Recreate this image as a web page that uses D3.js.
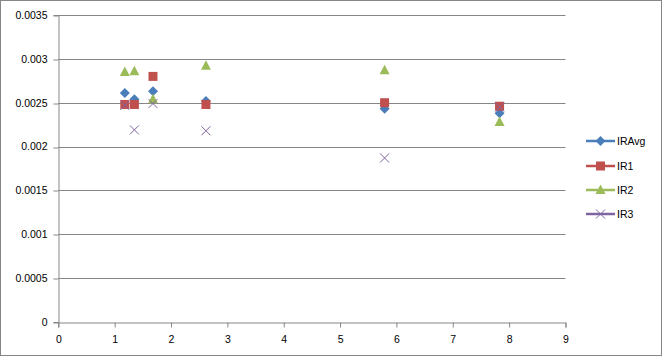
<!DOCTYPE html>
<html><head><meta charset="utf-8">
<script src="https://cdn.jsdelivr.net/npm/d3@7"></script>
<style>body{margin:0;background:#fff}svg{display:block}text{font-family:"Liberation Sans",Arial,sans-serif;font-size:10.5px;fill:#000}</style>
</head><body><svg id="c" width="663" height="357"></svg>
<script>
const xVals = [1.18, 1.35, 1.68, 2.62, 5.79, 7.83];
const seriesNames = ["IRAvg", "IR1", "IR2", "IR3"];
const irAvg = [0.00261, 0.00254, 0.00263, 0.00252, 0.00243, 0.00238];
const ir1 = [0.00248, 0.00248, 0.00280, 0.00248, 0.00250, 0.00246];
const ir2 = [0.00285, 0.00286, 0.00254, 0.00292, 0.00287, 0.00228];
const ir3 = [0.00247, 0.00219, 0.00249, 0.00218, 0.00187, 0.00245];
const xTicks = [0,1,2,3,4,5,6,7,8,9];
const yTicks = [0,0.0005,0.001,0.0015,0.002,0.0025,0.003,0.0035];
const yTickLabels = ["0","0.0005","0.001","0.0015","0.002","0.0025","0.003","0.0035"];

const colors = ["#4A7EBB","#C0504D","#9BBB59","#8064A2"];
const shapes = ["diamond","square","triangle","x"];
const data = [irAvg, ir1, ir2, ir3];

const svg = d3.select("#c");
svg.append("rect").attr("x",0.5).attr("y",0.5).attr("width",661).attr("height",355)
  .attr("fill","#fff").attr("stroke","#868686");

const x = d3.scaleLinear().domain([0,9]).range([58.3,565.5]);
const y = d3.scaleLinear().domain([0,0.0035]).range([322,15]);

// gridlines
svg.append("g").selectAll("line").data(yTicks.slice(1)).join("line")
  .attr("x1",x(0)).attr("x2",x(9)).attr("y1",d=>Math.round(y(d))+0.5).attr("y2",d=>Math.round(y(d))+0.5)
  .attr("stroke","#868686").attr("stroke-width",1);

// y axis
const yAxis = svg.append("g").attr("transform",`translate(${Math.round(x(0))+0.5},0)`)
  .call(d3.axisLeft(y).tickValues(yTicks).tickFormat((d,i)=>yTickLabels[i]).tickSize(5).tickPadding(6));
yAxis.selectAll("line").attr("stroke","#868686").attr("transform",(d)=>`translate(0,${Math.round(y(d))+0.5-y(d)})`);
yAxis.select(".domain").attr("stroke","#868686");
yAxis.selectAll("text").attr("fill","#000").style("font-size","10.5px").style("font-family","Liberation Sans, Arial, sans-serif");

// x axis
const xAxis = svg.append("g").attr("transform",`translate(0,${Math.round(y(0))+0.5})`)
  .call(d3.axisBottom(x).tickValues(xTicks).tickFormat(d3.format("d")).tickSize(5).tickPadding(8));
xAxis.selectAll("line").attr("stroke","#868686");
xAxis.select(".domain").attr("stroke","#868686");
xAxis.selectAll("text").attr("fill","#000").style("font-size","10.5px").style("font-family","Liberation Sans, Arial, sans-serif");

function marker(g, shape, color, cx, cy){
  if(shape==="diamond"){
    g.append("path").attr("d",`M${cx},${cy-5}L${cx+5},${cy}L${cx},${cy+5}L${cx-5},${cy}Z`).attr("fill",color);
  } else if(shape==="square"){
    g.append("rect").attr("x",cx-4.5).attr("y",cy-4.5).attr("width",9).attr("height",9).attr("fill",color);
  } else if(shape==="triangle"){
    g.append("path").attr("d",`M${cx},${cy-5.5}L${cx+5},${cy+4}L${cx-5},${cy+4}Z`).attr("fill",color);
  } else {
    g.append("path").attr("d",`M${cx-4.5},${cy-4.5}L${cx+4.5},${cy+4.5}M${cx+4.5},${cy-4.5}L${cx-4.5},${cy+4.5}`)
      .attr("stroke",color).attr("stroke-width",1).attr("fill","none");
  }
}

const plot = svg.append("g");
data.forEach((vals,si)=>{
  const g = plot.append("g");
  vals.forEach((v,i)=>marker(g, shapes[si], colors[si], x(xVals[i]), y(v)));
});

// legend
const legY = [141,166,190,214];
const leg = svg.append("g");
seriesNames.forEach((n,i)=>{
  const g = leg.append("g");
  g.append("line").attr("x1",586).attr("x2",615).attr("y1",legY[i]).attr("y2",legY[i])
    .attr("stroke",colors[i]).attr("stroke-width",2.5);
  marker(g, shapes[i], colors[i], 600.5, legY[i]);
  g.append("text").attr("x",617).attr("y",legY[i]).attr("dy","0.35em").text(n);
});
</script></body></html>
